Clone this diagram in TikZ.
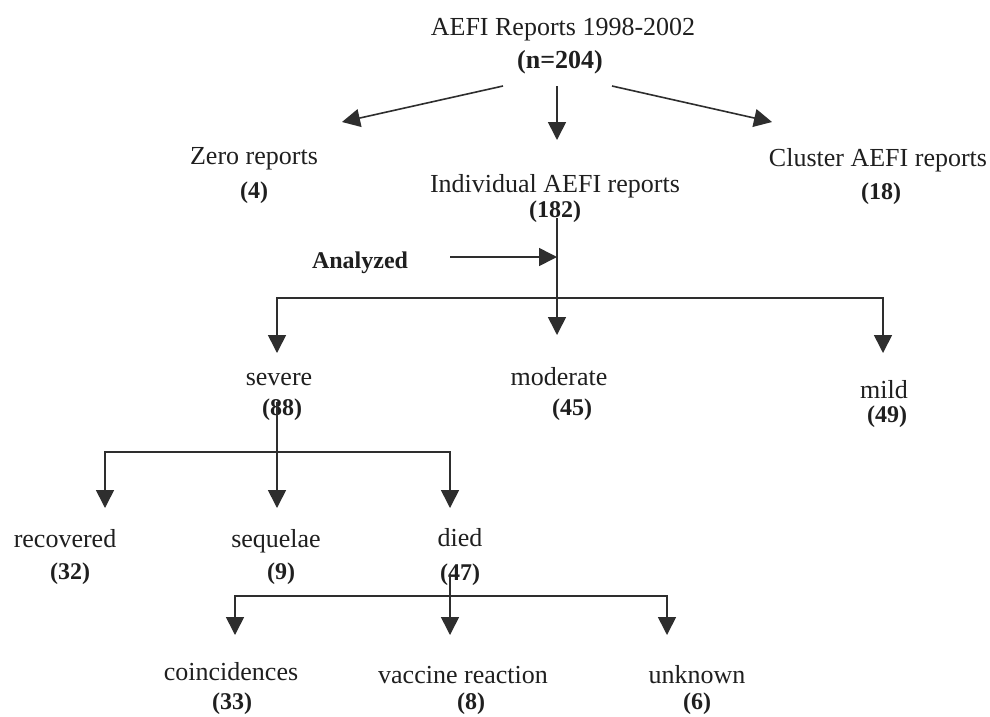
\documentclass[tikz,border=0pt]{standalone}
\usepackage{fontspec}
\setmainfont{Liberation Serif}
\usetikzlibrary{arrows.meta}
\begin{document}
\begin{tikzpicture}[x=1pt,y=-1pt,
  lbl/.style={anchor=base,inner sep=0pt,text=black!88,font=\fontsize{26}{30}\selectfont},
  num/.style={anchor=base,inner sep=0pt,text=black!88,font=\fontsize{24}{28}\selectfont\bfseries},
  conn/.style={draw=black!82,line width=1.6pt},
  arr/.style={conn,-{Triangle[length=18pt,width=18pt]}}]
\useasboundingbox[fill=white] (0,0) rectangle (990,716);

% texts
\node[lbl] (title) at (563,35) {AEFI Reports 1998-2002};
\node[num,font=\fontsize{26}{30}\selectfont\bfseries] (titlen) at (560,68) {(n=204)};
\node[lbl] (zero) at (254,164) {Zero reports};
\node[num] (zeron) at (254,198) {(4)};
\node[lbl] (indiv) at (555,192) {Individual AEFI reports};
\node[num] (indivn) at (555,217) {(182)};
\node[lbl] (cluster) at (878,166) {Cluster AEFI reports};
\node[num] (clustern) at (881,199) {(18)};
\node[num] (analyzed) at (360,268) {Analyzed};
\node[lbl] (severe) at (279,385) {severe};
\node[num] (severen) at (282,415) {(88)};
\node[lbl] (moderate) at (559,385) {moderate};
\node[num] (moderaten) at (572,415) {(45)};
\node[lbl] (mild) at (884,398) {mild};
\node[num] (mildn) at (887,422) {(49)};
\node[lbl] (recovered) at (65,547) {recovered};
\node[num] (recoveredn) at (70,579) {(32)};
\node[lbl] (sequelae) at (276,547) {sequelae};
\node[num] (sequelaen) at (281,579) {(9)};
\node[lbl] (died) at (460,546) {died};
\node[num] (diedn) at (460,580) {(47)};
\node[lbl] (coinc) at (231,680) {coincidences};
\node[num] (coincn) at (232,709) {(33)};
\node[lbl] (vaccine) at (463,683) {vaccine reaction};
\node[num] (vaccinen) at (471,709) {(8)};
\node[lbl] (unknown) at (697,683) {unknown};
\node[num] (unknownn) at (697,709) {(6)};

% connector points
\coordinate (tL0) at (503,86);  \coordinate (tL1) at (342,122);
\coordinate (tM0) at (557,86);  \coordinate (tM1) at (557,140);
\coordinate (tR0) at (612,86);  \coordinate (tR1) at (772,122);
\coordinate (iv0) at (557,218); \coordinate (iv1) at (557,335);
\coordinate (an0) at (450,257); \coordinate (an1) at (557,257);
\coordinate (b1M) at (557,298); \coordinate (b1L) at (277,298); \coordinate (b1R) at (883,298);
\coordinate (sev1) at (277,353); \coordinate (mil1) at (883,353);
\coordinate (sv0) at (277,402); \coordinate (b2M) at (277,452);
\coordinate (b2L) at (105,452); \coordinate (b2R) at (450,452);
\coordinate (rec1) at (105,508); \coordinate (seq1) at (277,508); \coordinate (die1) at (450,508);
\coordinate (dd0) at (450,574); \coordinate (b3M) at (450,596);
\coordinate (b3L) at (235,596); \coordinate (b3R) at (667,596);
\coordinate (coi1) at (235,635); \coordinate (vac1) at (450,635); \coordinate (unk1) at (667,635);

% connectors
\draw[arr] (tL0) -- (tL1);
\draw[arr] (tM0) -- (tM1);
\draw[arr] (tR0) -- (tR1);
\draw[arr] (iv0) -- (iv1);
\draw[arr] (an0) -- (an1);
\draw[arr] (b1M) -- (b1L) -- (sev1);
\draw[arr] (b1M) -- (b1R) -- (mil1);
\draw[arr] (sv0) -- (seq1);
\draw[arr] (b2M) -- (b2L) -- (rec1);
\draw[arr] (b2M) -- (b2R) -- (die1);
\draw[arr] (dd0) -- (vac1);
\draw[arr] (b3M) -- (b3L) -- (coi1);
\draw[arr] (b3M) -- (b3R) -- (unk1);
\end{tikzpicture}
\end{document}
